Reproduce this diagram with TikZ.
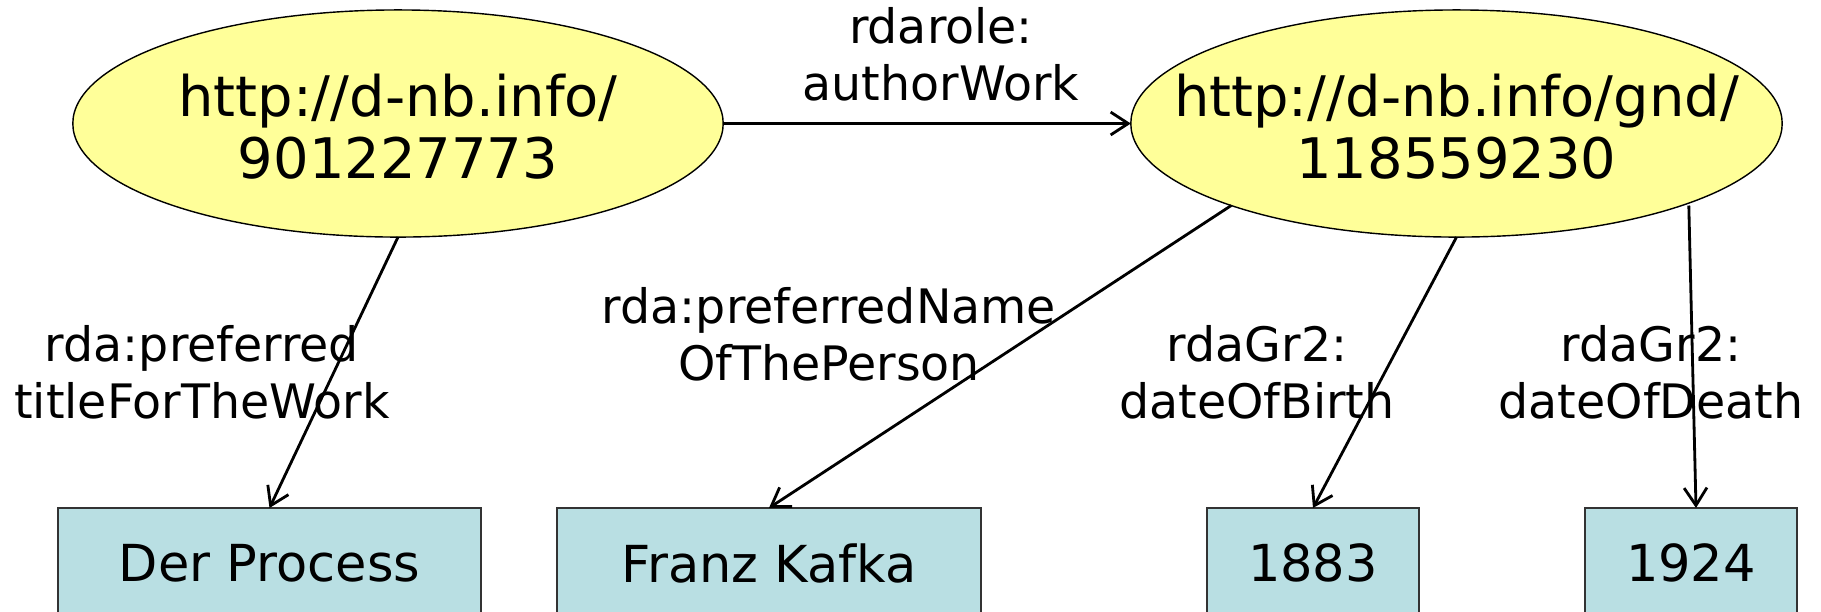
\documentclass[tikz,border=0pt]{standalone}
\usepackage{fontspec}
\setmainfont{DejaVu Sans}
\usetikzlibrary{arrows.meta,shapes.geometric}
\definecolor{ellfill}{RGB}{255,255,153}
\definecolor{boxfill}{RGB}{185,223,227}
\tikzset{
  ell/.style={ellipse, draw=black, line width=0.4pt, fill=ellfill, inner sep=0pt, outer sep=0pt},
  elltext/.style={align=center, inner sep=0pt, font=\fontsize{15.9pt}{17.7pt}\selectfont},
  valbox/.style={rectangle, draw=black!80, line width=0.4pt, fill=boxfill, inner sep=0pt, outer sep=0pt,
    minimum height=1.10cm, font=\fontsize{14.5pt}{17pt}\selectfont},
  lbl/.style={align=center, inner sep=0pt, anchor=base, font=\fontsize{13.5pt}{16.2pt}\selectfont},
  arr/.style={-{Straight Barb[length=5pt,width=6.5pt,line width=0.8pt]}, line width=0.8pt}
}
\begin{document}
\begin{tikzpicture}[x=0.01cm,y=-0.01cm]
\useasboundingbox (0,0) rectangle (1821,611);
\clip (0,0) rectangle (1821,611);
% ellipses
\node[ell, minimum width=6.50cm, minimum height=2.27cm] (e1) at (398,123.5) {};
\node[elltext] (t1) at ([yshift=-0.03cm]e1.center) {http://d-nb.info/\\901227773};
\node[ell, minimum width=6.51cm, minimum height=2.27cm] (e2) at (1456.5,123.5) {};
\node[elltext] (t2) at ([yshift=-0.03cm]e2.center) {http://d-nb.info/gnd/\\118559230};
% value boxes
\node[valbox, minimum width=4.23cm] (b1) at (269.5,563) {Der Process};
\node[valbox, minimum width=4.24cm] (b2) at (769,563) {Franz Kafka};
\node[valbox, minimum width=2.12cm] (b3) at (1313,563) {1883};
\node[valbox, minimum width=2.12cm] (b4) at (1691,563) {1924};
% labels (anchor = baseline of last line)
\node[lbl] (l0) at (941,100) {rdarole:\\authorWork};
\node[lbl] (l1) at (202,418) {rda:preferred\\titleForTheWork};
\node[lbl] (l2) at (829,380) {rda:preferredName\\OfThePerson};
\node[lbl] (l3) at (1257,418) {rdaGr2:\\dateOfBirth};
\node[lbl] (l4) at (1651,418) {rdaGr2:\\dateOfDeath};
% connectors
\draw[arr] (e1.east) -- (e2.west);
\draw[arr] (e1.south) -- (b1.north);
\draw[arr] (e2.200) -- (b2.north);
\draw[arr] (e2.south) -- (b3.north);
\draw[arr] ([xshift=0.07cm]e2.340) -- ([xshift=0.05cm]b4.north);
\end{tikzpicture}
\end{document}
